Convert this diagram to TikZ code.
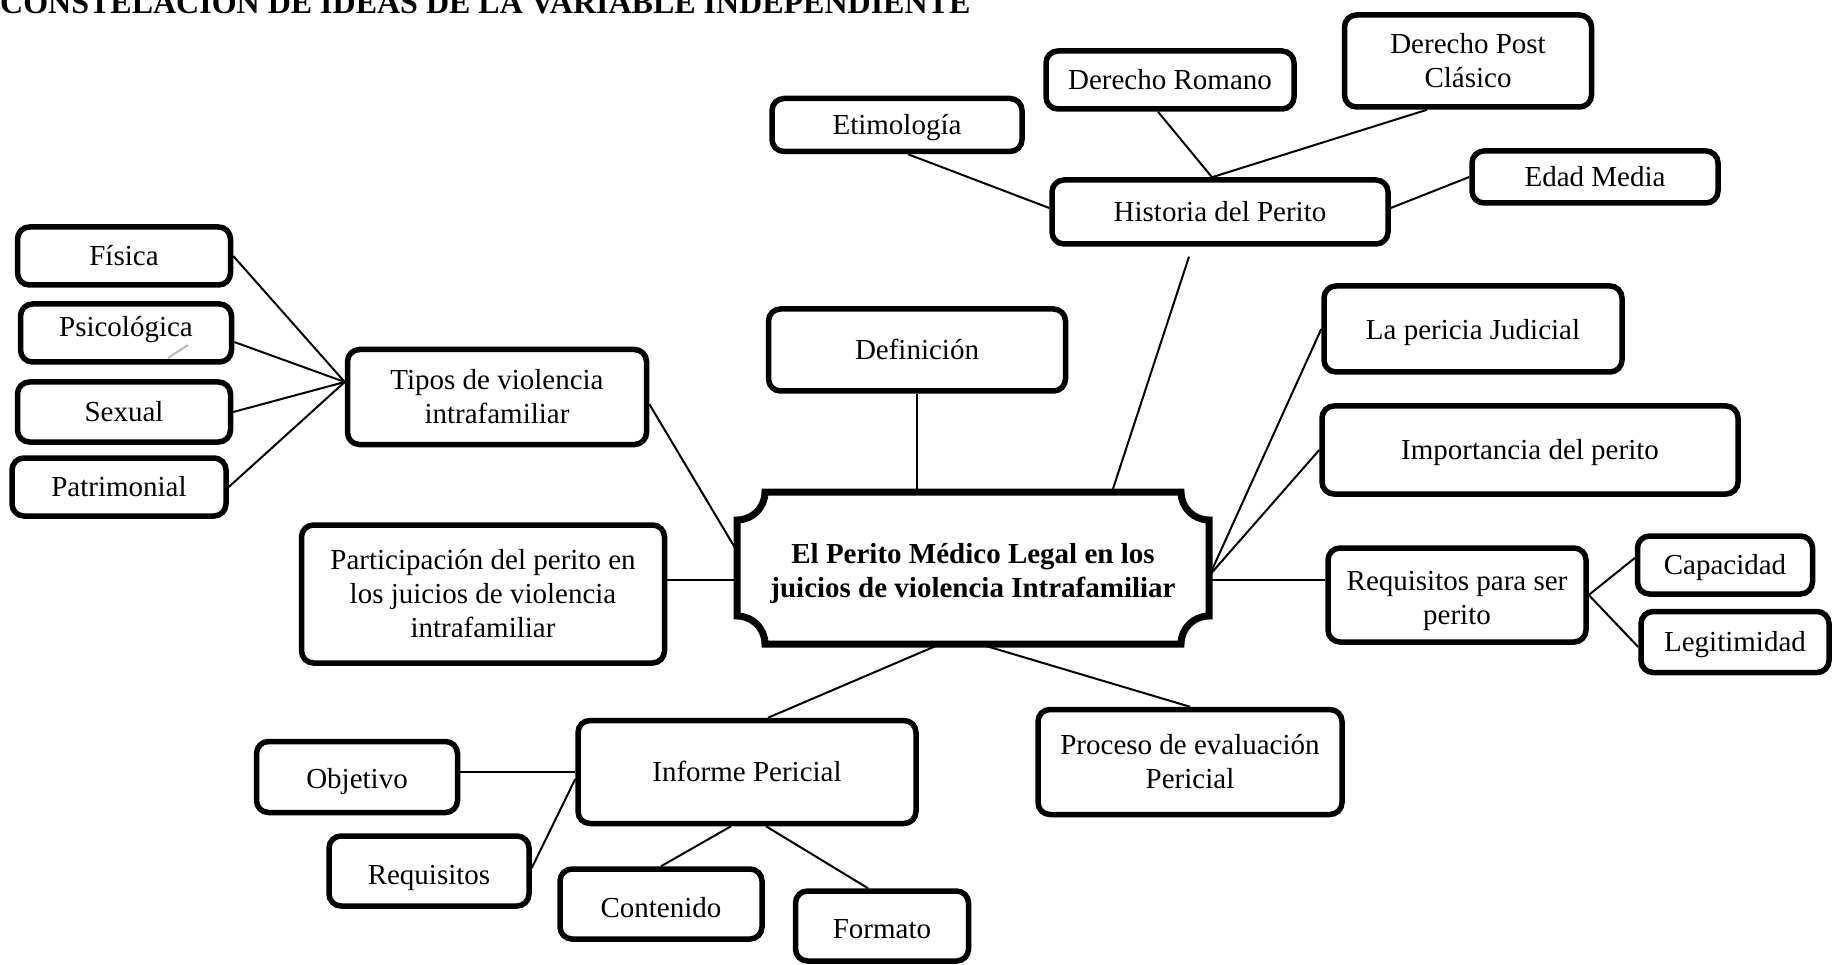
\documentclass[tikz,border=0pt]{standalone}
\usepackage{fontspec}
\setmainfont{Liberation Serif}
\newcommand{\fs}{\fontsize{29}{34}\selectfont}
\begin{document}
\begin{tikzpicture}[x=1pt,y=-1pt,
  box/.style={draw, line width=5.5pt, rounded corners=12pt, align=center, font=\fs, inner sep=0pt, fill=white},
  one/.style={box, text height=#1, text depth=0pt},
  one/.default=19.8pt,
  conn/.style={line width=2pt}]
\useasboundingbox (0,0) rectangle (1834,965);
\fill[white] (0,0) rectangle (1834,965);

% title
\node[anchor=base west, font=\fontsize{32}{38}\selectfont\bfseries, inner sep=0pt] (title) at (0,14) {CONSTELACIÓN DE IDEAS DE LA VARIABLE INDEPENDIENTE};

% top cluster
\node[one, minimum width=250pt, minimum height=53pt] (etim) at (897,125) {Etimología};
\node[one, minimum width=248pt, minimum height=58pt] (drom) at (1170,80) {Derecho Romano};
\node[box, minimum width=247pt, minimum height=92pt] (dpost) at (1468,61) {Derecho Post\\Clásico};
\node[one, minimum width=246pt, minimum height=52pt] (edad) at (1595,177) {Edad Media};
\node[one, minimum width=336pt, minimum height=64pt] (hist) at (1220,212) {Historia del Perito};

% left cluster
\node[one, minimum width=213pt, minimum height=58pt] (fisica) at (124,256) {Física};
\node[one=6.5pt, minimum width=211pt, minimum height=58pt] (psico) at (126,333) {Psicológica};
\node[one, minimum width=213pt, minimum height=60pt] (sexual) at (124,412) {Sexual};
\node[one, minimum width=214pt, minimum height=58pt] (patri) at (119,487) {Patrimonial};
\node[box, minimum width=299pt, minimum height=95pt] (tipos) at (497,397) {Tipos de violencia\\intrafamiliar};
\draw[gray!55, line width=2pt] (168,358) -- (188,345);

% centre
\node[inner sep=0pt, minimum width=473pt, minimum height=152pt,
  label={[align=center, font=\fs\bfseries, yshift=-6pt]center:{El Perito Médico Legal en los\\juicios de violencia Intrafamiliar}}] (central) at (973,568) {};
\draw[line width=7pt, line join=miter]
  (765,492) -- (1181,492)
  .. controls (1181,507.5) and (1193.5,520) .. (1209,520)
  -- (1209,616)
  .. controls (1193.5,616) and (1181,628.5) .. (1181,644)
  -- (765,644)
  .. controls (765,628.5) and (752.5,616) .. (737,616)
  -- (737,520)
  .. controls (752.5,520) and (765,507.5) .. (765,492) -- cycle;
\node[one, minimum width=297pt, minimum height=82pt] (def) at (917,350) {Definición};
\node[box, minimum width=363pt, minimum height=138pt] (part) at (483,594) {Participación del perito en\\los juicios de violencia\\intrafamiliar};

% right cluster
\node[one=22pt, minimum width=298pt, minimum height=86pt] (pericia) at (1473,329) {La pericia Judicial};
\node[one, minimum width=416pt, minimum height=88pt] (imp) at (1530,450) {Importancia del perito};
\node[box, minimum width=258pt, minimum height=94pt,
  label={[align=center, font=\fs, yshift=-6pt]center:{Requisitos para ser\\perito}}] (reqs) at (1457,595) {};
\node[one, minimum width=175pt, minimum height=58pt] (cap) at (1725,565) {Capacidad};
\node[one, minimum width=188pt, minimum height=61pt] (leg) at (1735,642) {Legitimidad};

% bottom cluster
\node[one, minimum width=338pt, minimum height=103pt] (inf) at (747,772) {Informe Pericial};
\node[box, minimum width=304pt, minimum height=105pt] (proc) at (1190,762) {Proceso de evaluación\\Pericial};
\node[one=22pt, minimum width=201pt, minimum height=71pt] (obj) at (357,777) {Objetivo};
\node[one=26.5pt, minimum width=200pt, minimum height=70pt] (req2) at (429,871) {Requisitos};
\node[one=26pt, minimum width=202pt, minimum height=70pt] (cont) at (661,904) {Contenido};
\node[one=24pt, minimum width=173pt, minimum height=70pt] (form) at (882,926) {Formato};

% connectors: top
\draw[conn] ([xshift=11pt]etim.south) -- ([yshift=4pt]hist.west);
\draw[conn] ([xshift=-12pt]drom.south) -- ([xshift=-8pt]hist.north);
\draw[conn] ([xshift=-41pt]dpost.south) -- ([xshift=-8pt]hist.north);
\draw[conn] (edad.west) -- ([yshift=4pt]hist.east);
\draw[conn] ([xshift=-31pt,yshift=-10pt]hist.south) -- ([xshift=139pt]central.north);
% left
\draw[conn] (fisica.east) -- ([yshift=15pt]tipos.west);
\draw[conn] ([yshift=-9pt]psico.east) -- ([yshift=15pt]tipos.west);
\draw[conn] (sexual.east) -- ([yshift=15pt]tipos.west);
\draw[conn] (patri.east) -- ([yshift=15pt]tipos.west);
\draw[conn] ([yshift=-7pt]tipos.east) -- ([yshift=18pt]central.west);
\draw[conn] (def.south) -- (def.south |- central.north);
\draw[conn] ([yshift=14pt]part.east) -- ([yshift=-12pt]central.west);
% right
\draw[conn] ([yshift=-7pt]central.east) -- (pericia.west);
\draw[conn] ([yshift=-7pt]central.east) -- (imp.west);
\draw[conn] ([yshift=-12pt]central.east) -- ([yshift=15pt]reqs.west);
\draw[conn] (reqs.east) -- ([yshift=7pt]cap.west);
\draw[conn] (reqs.east) -- ([yshift=-5pt]leg.west);
% bottom
\draw[conn] ([xshift=-33pt]central.south) -- ([xshift=21pt]inf.north);
\draw[conn] ([xshift=7pt]central.south) -- (proc.north);
\draw[conn] ([yshift=5pt]obj.east) -- (inf.west);
\draw[conn] ([yshift=3pt]req2.east) -- ([yshift=-7pt]inf.west);
\draw[conn] ([xshift=-16pt]inf.south) -- (cont.north);
\draw[conn] ([xshift=19pt]inf.south) -- ([xshift=-14pt]form.north);
\end{tikzpicture}
\end{document}
